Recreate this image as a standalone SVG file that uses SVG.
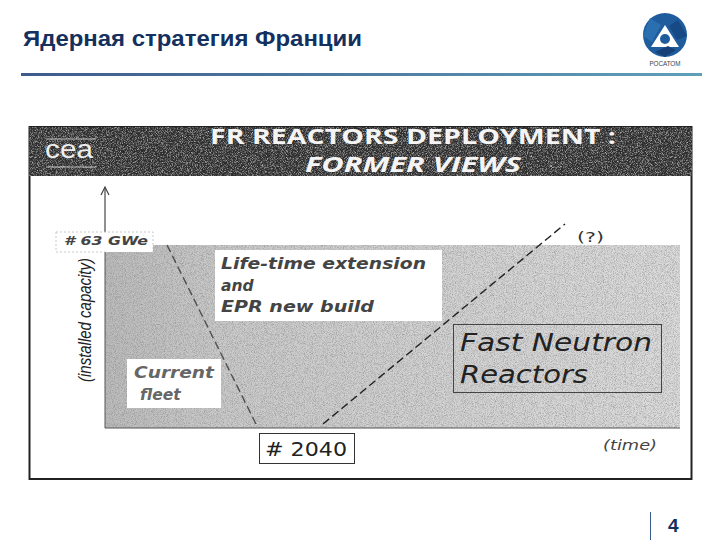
<svg xmlns="http://www.w3.org/2000/svg" width="720" height="540" viewBox="0 0 720 540">
<style>
.t{font-family:"DejaVu Sans",sans-serif;font-style:italic;fill:#444}
.h{font-family:"Open Sans",sans-serif;font-weight:700;fill:#f4f4f4;font-size:21px}
.box{fill:#fff}
.dash{fill:none;stroke:#222;stroke-width:1.4;stroke-dasharray:8 4}
</style>
<defs>
<linearGradient id="rule" x1="0" x2="1" y1="0" y2="0"><stop offset="0" stop-color="#3f5a8c"/><stop offset="1" stop-color="#5f9fb8"/></linearGradient>
<linearGradient id="area" x1="0" x2="1" y1="0" y2="0"><stop offset="0" stop-color="#bcbcbc"/><stop offset="0.2" stop-color="#cacaca"/><stop offset="1" stop-color="#dcdcdc"/></linearGradient>
<filter id="grain" x="0" y="0" width="100%" height="100%"><feTurbulence type="fractalNoise" baseFrequency="1.1" numOctaves="2" seed="4"/><feColorMatrix type="matrix" values="0 0 0 0 0.2  0 0 0 0 0.2  0 0 0 0 0.2  1.3 0 0 0 -0.52"/></filter>
<filter id="grainW" x="0" y="0" width="100%" height="100%"><feTurbulence type="fractalNoise" baseFrequency="1.2" numOctaves="2" seed="9"/><feColorMatrix type="matrix" values="0 0 0 0 1  0 0 0 0 1  0 0 0 0 1  1.6 0 0 0 -0.68"/></filter>
<marker id="arr" markerWidth="12" markerHeight="10" refX="9" refY="5" orient="auto" markerUnits="userSpaceOnUse"><path d="M1 1L9 5L1 9" fill="none" stroke="#444" stroke-width="1.200"/></marker>
</defs>
<rect width="720" height="540" fill="#fff"/>
<g id="title">
<text x="23" y="46" font-family="Liberation Sans,sans-serif" font-weight="700" font-size="21.500" fill="#14305f" textLength="339" lengthAdjust="spacingAndGlyphs">Ядерная стратегия Франции</text>
<rect x="21" y="73" width="681" height="3" fill="url(#rule)"/>
</g>
<g id="logo">
<circle cx="665" cy="35" r="22" fill="#1f5c9e"/>
<path d="M665 25L679 47H651Z" fill="#fff"/>
<circle cx="665" cy="39" r="5" fill="#1f5c9e"/>
<path d="M650 18L661 25L652 42L643 36Z" fill="#2a6fb0"/>
<path d="M678 20L687 36L677 40L669 26Z" fill="#174a85"/>
<path d="M655 52L668 46L676 50L665 57Z" fill="#163f78"/>
<text x="665" y="66" text-anchor="middle" font-family="Liberation Sans,sans-serif" font-size="7" fill="#444" textLength="31" lengthAdjust="spacingAndGlyphs">РОСАТОМ</text>
</g>
<g id="slide-image">
<rect x="29.500" y="127" width="662" height="352" fill="#fff" stroke="#222" stroke-width="2"/>
<rect x="29" y="127" width="663" height="49" fill="#2c2c2c"/>
<rect x="29" y="127" width="663" height="49" filter="url(#grainW)"/>
<rect x="105" y="245" width="575" height="183" fill="url(#area)"/>
<rect x="105" y="245" width="575" height="183" filter="url(#grain)"/>
<path d="M105 428H680" stroke="#555" stroke-width="1.200"/>
</g>
<g id="header">
<text x="45" y="158" font-family="Liberation Sans,sans-serif" font-size="25" fill="#eee" textLength="48" lengthAdjust="spacingAndGlyphs">cea</text>
<path d="M46 139H96M46 167H96" stroke="#ddd" stroke-width="0.800"/>
<text class="h" x="210" y="144" textLength="406" lengthAdjust="spacingAndGlyphs">FR REACTORS DEPLOYMENT  :</text>
<text class="h" x="305" y="172" font-style="italic" textLength="216" lengthAdjust="spacingAndGlyphs">FORMER VIEWS</text>
</g>
<g id="connectors">
<path d="M105 232V187" fill="none" stroke="#555" stroke-width="1.300" marker-end="url(#arr)"/>
<path d="M105 245V428" fill="none" stroke="#555" stroke-width="1"/>
<path class="dash" d="M167 245L256 424" stroke-opacity="0.700"/>
<path class="dash" d="M323 424L565 224"/>
</g>
<g id="n-63gwe">
<rect class="box" x="56" y="232" width="97" height="20"/>
<path d="M56 232H153V252M56 252H105M56 232V252" fill="none" stroke="#bbb" stroke-width="0.800" stroke-dasharray="2 2"/>
<text class="t" x="64" y="245" font-size="12.500" font-weight="700" textLength="84" lengthAdjust="spacingAndGlyphs"># 63 GWe</text>
</g>
<g id="n-axis-y">
<text x="91" y="320" transform="rotate(-90 91 320)" text-anchor="middle" font-family="Liberation Sans,sans-serif" font-style="italic" font-size="18" fill="#222" textLength="124" lengthAdjust="spacingAndGlyphs">(installed capacity)</text>
</g>
<g id="n-life">
<rect class="box" x="215" y="250" width="227" height="71"/>
<text class="t" font-size="15.500" font-weight="700"><tspan x="221" y="269" textLength="205" lengthAdjust="spacingAndGlyphs">Life-time extension</tspan><tspan x="221" y="291">and</tspan><tspan x="221" y="312" textLength="153" lengthAdjust="spacingAndGlyphs">EPR new build</tspan></text>
</g>
<g id="n-fleet">
<rect class="box" x="127" y="359" width="94" height="49"/>
<text class="t" font-size="15.500" font-weight="700" style="fill:#666"><tspan x="134" y="378" textLength="80" lengthAdjust="spacingAndGlyphs">Current</tspan><tspan x="140" y="400">fleet</tspan></text>
</g>
<g id="n-2040">
<rect class="box" x="259.500" y="433.500" width="95" height="30" stroke="#333"/>
<text x="265" y="456" font-family="DejaVu Sans,sans-serif" font-size="19" fill="#222" textLength="82" lengthAdjust="spacingAndGlyphs"># 2040</text>
</g>
<g id="n-fnr">
<rect x="453.500" y="324.500" width="208" height="68" fill="none" stroke="#444"/>
<text class="t" font-size="24" style="fill:#222"><tspan x="460" y="351" textLength="192" lengthAdjust="spacingAndGlyphs">Fast Neutron</tspan><tspan x="460" y="383" textLength="128" lengthAdjust="spacingAndGlyphs">Reactors</tspan></text>
</g>
<g id="n-q"><text x="577" y="242" font-family="DejaVu Sans,sans-serif" font-size="14" fill="#333" textLength="27" lengthAdjust="spacingAndGlyphs">(?)</text></g>
<g id="n-time"><text class="t" x="603" y="450" font-size="14" textLength="54" lengthAdjust="spacingAndGlyphs">(time)</text></g>
<g id="page">
<path d="M650.500 512V540" stroke="#3a5a8a" stroke-width="1"/>
<text x="668" y="532" font-family="Liberation Sans,sans-serif" font-weight="700" font-size="19" fill="#14305f">4</text>
</g>
</svg>
